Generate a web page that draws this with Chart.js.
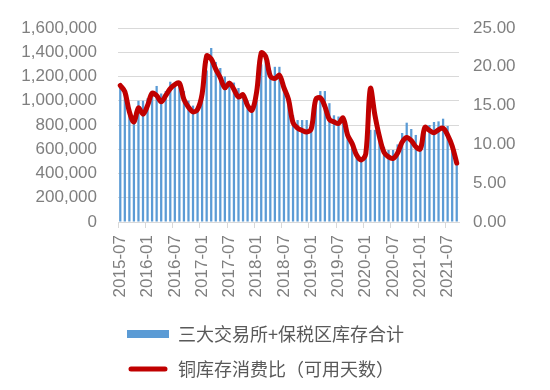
<!DOCTYPE html>
<html><head><meta charset="utf-8">
<script src="https://cdn.jsdelivr.net/npm/chart.js@4/dist/chart.umd.min.js"></script>
<style>html,body{margin:0;padding:0;background:#fff;}canvas{display:block;}</style>
</head><body>
<canvas id="c" width="550" height="390"></canvas>
<script>
const months = [
 "2015-07","2015-08","2015-09","2015-10","2015-11","2015-12",
 "2016-01","2016-02","2016-03","2016-04","2016-05","2016-06",
 "2016-07","2016-08","2016-09","2016-10","2016-11","2016-12",
 "2017-01","2017-02","2017-03","2017-04","2017-05","2017-06",
 "2017-07","2017-08","2017-09","2017-10","2017-11","2017-12",
 "2018-01","2018-02","2018-03","2018-04","2018-05","2018-06",
 "2018-07","2018-08","2018-09","2018-10","2018-11","2018-12",
 "2019-01","2019-02","2019-03","2019-04","2019-05","2019-06",
 "2019-07","2019-08","2019-09","2019-10","2019-11","2019-12",
 "2020-01","2020-02","2020-03","2020-04","2020-05","2020-06",
 "2020-07","2020-08","2020-09","2020-10","2020-11","2020-12",
 "2021-01","2021-02","2021-03","2021-04","2021-05","2021-06",
 "2021-07","2021-08","2021-09"
];
const inventory = [
 1110000,1060000,940000,880000,1000000,1000000,
 1020000,1080000,1122000,1060000,1080000,1157000,
 1130000,1150000,1080000,1000000,960000,950000,
 1020000,1250000,1435000,1320000,1270000,1200000,
 1160000,1150000,1105000,1060000,1000000,924000,
 1000000,1300000,1330000,1250000,1280000,1280000,
 1150000,1000000,880000,841000,841000,841000,
 830000,1000000,1080000,1080000,980000,880000,
 870000,860000,720000,650000,560000,520000,
 560000,760000,760000,680000,620000,594000,
 594000,640000,734000,819000,767000,718000,
 620000,790000,800000,825000,830000,852000,
 792000,620000,480000
];
const daysRatio = [
 17.6,16.8,14.2,12.9,14.7,13.9,
 15.0,16.6,16.3,15.5,16.3,17.2,
 17.7,17.9,15.8,14.8,14.2,14.5,
 16.5,21.4,21.0,19.7,18.6,17.3,
 17.9,17.1,16.1,16.4,15.0,14.4,
 16.8,21.8,21.3,18.8,18.5,18.9,
 17.3,15.8,12.8,12.1,11.8,11.6,
 12.0,15.8,16.0,14.9,13.2,12.9,
 12.7,13.4,11.2,10.1,8.6,8.0,
 8.8,17.2,13.8,11.0,9.0,8.4,
 8.2,8.9,10.3,10.9,10.5,9.7,
 9.4,12.2,11.8,11.5,11.9,12.1,
 11.2,9.8,7.6
];
const leftTicks = [0,200000,400000,600000,800000,1000000,1200000,1400000,1600000];
const rightTicks = [0,5,10,15,20,25];
const seriesNames = ["三大交易所+保税区库存合计","铜库存消费比（可用天数）"];

const axisFont = {family: "'Liberation Sans', Arial, sans-serif", size: 17};
const axisColor = '#7f7f7f';

const legendPos = {
  id: 'legendPos',
  afterLayout(chart) {
    const lg = chart.legend;
    if (lg) { lg.left -= 8; lg.right -= 8; lg.top += 8; lg.bottom += 8; }
  }
};

new Chart(document.getElementById('c'), {
  data: {
    labels: months,
    datasets: [
      {
        type: 'line', label: seriesNames[1], data: daysRatio, yAxisID: 'y1',
        borderColor: '#C00000', backgroundColor: '#C00000', borderWidth: 5,
        pointRadius: 0, tension: 0.35, borderCapStyle: 'round', borderJoinStyle: 'round',
        order: 1
      },
      {
        type: 'bar', label: seriesNames[0], data: inventory, yAxisID: 'y',
        backgroundColor: '#5B9BD5', borderWidth: 0,
        barPercentage: 0.5, categoryPercentage: 1.0,
        order: 2
      }
    ]
  },
  options: {
    responsive: false, animation: false,
    layout: {padding: {left: 0, right: 0, top: 28, bottom: 10}},
    plugins: {
      tooltip: {enabled: false},
      legend: {
        position: 'bottom', align: 'start', fullSize: false, reverse: true,
        labels: {
          font: {family: "'Noto Sans CJK SC', sans-serif", size: 18},
          color: '#595959', boxWidth: 42, boxHeight: 8, padding: 17,
          useBorderRadius: true,
          generateLabels(chart) {
            const items = Chart.defaults.plugins.legend.labels.generateLabels(chart);
            items.forEach(it => {
              if (it.datasetIndex === 0) {
                it.fillStyle = '#C00000'; it.strokeStyle = '#ffffff'; it.lineWidth = 3; it.borderRadius = 4;
              } else {
                it.fillStyle = '#5B9BD5'; it.lineWidth = 0; it.borderRadius = 0;
              }
            });
            return items;
          }
        }
      }
    },
    scales: {
      x: {
        offset: true,
        afterFit: s => { s.height = 78; },
        grid: {
          offset: true, drawOnChartArea: false, drawTicks: true, tickLength: 6,
          color: c => (c.index % 6 === 0 ? '#d9d9d9' : 'rgba(0,0,0,0)')
        },
        border: {color: '#d9d9d9'},
        ticks: {
          autoSkip: false, minRotation: 90, maxRotation: 90, padding: 7,
          font: axisFont, color: axisColor,
          callback: (v, i) => (i % 6 === 0 ? months[i] : '')
        }
      },
      y: {
        position: 'left', min: 0, max: 1600000,
        afterBuildTicks: s => { s.ticks = leftTicks.map(v => ({value: v})); },
        afterFit: s => { s.width = 118; s.paddingTop = 0; s.paddingBottom = 0; },
        grid: {color: '#d9d9d9', drawTicks: false},
        border: {display: false},
        ticks: {
          padding: 21, font: axisFont, color: axisColor,
          callback: v => v.toLocaleString('en-US')
        }
      },
      y1: {
        position: 'right', min: 0, max: 25,
        afterBuildTicks: s => { s.ticks = rightTicks.map(v => ({value: v})); },
        afterFit: s => { s.width = 91; s.paddingTop = 0; s.paddingBottom = 0; },
        grid: {display: false, drawTicks: false},
        border: {display: false},
        ticks: {
          padding: 14, font: axisFont, color: axisColor,
          callback: v => v.toFixed(2)
        }
      }
    }
  },
  plugins: [legendPos]
});
</script>
</body></html>
